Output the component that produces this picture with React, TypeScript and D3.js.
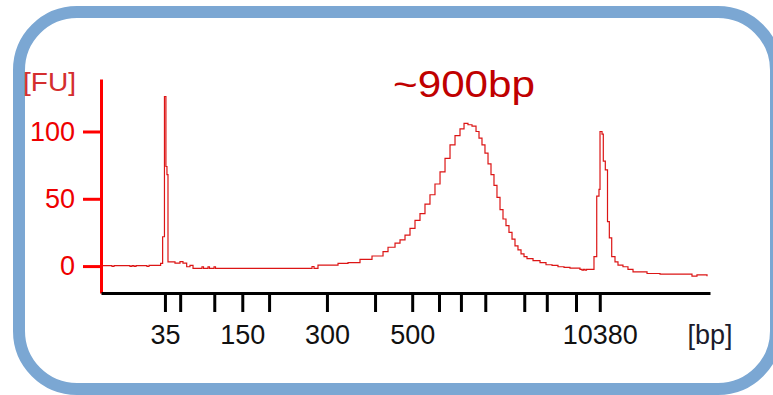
import React, { useEffect, useRef } from "react";
import * as d3 from "d3";

// ladder peaks: fragment size and migration time (s)
const ladderSizes = [35, 50, 100, 150, 200, 300, 400, 500, 600, 700, 1000, 2000, 3000, 7000, 10380];
const ladderTimes = [30.5, 33.0, 38.6, 43.2, 47.6, 57.1, 65.0, 71.1, 75.5, 79.1, 83.1, 89.5, 93.2, 98.0, 101.9];
const labeledSizes = [35, 150, 300, 500, 10380];

const yTicks = [0, 50, 100];

// electropherogram trace, migration time (s) and fluorescence (FU)
const traceTime = [
  20.0, 21.81, 22.13, 24.76, 25.09, 25.42, 25.75, 27.55, 27.88, 29.79,
  30.12, 30.42, 30.66, 30.83, 31.0, 32.15, 32.97, 33.46, 34.07, 34.61,
  35.11, 36.58, 36.83, 37.57, 37.81, 38.56, 38.8, 54.65, 54.98, 55.63,
  58.92, 60.56, 62.53, 64.5, 66.31, 67.13, 68.28, 69.1, 69.92, 70.74,
  71.56, 72.38, 73.2, 74.02, 74.84, 75.67, 76.49, 77.31, 78.13, 78.95,
  79.61, 80.26, 80.92, 81.58, 82.07, 82.56, 83.05, 83.55, 84.04, 84.53,
  85.02, 85.52, 86.01, 86.5, 86.99, 87.49, 87.98, 88.47, 88.97, 89.46,
  89.95, 90.94, 92.09, 93.07, 94.06, 95.04, 96.03, 97.01, 98.65, 98.98,
  99.23, 99.47, 99.72, 100.95, 101.4, 101.77, 101.94, 102.27, 102.48, 102.81,
  103.17, 103.47, 103.86, 104.4, 104.89, 105.71, 106.53, 107.36, 109.66, 111.79,
  116.71, 117.04, 117.86, 119.51,
];
const traceFU = [
  0.3, -0.3, 0.3, -0.2, 0.3, -0.2, 0.3, -0.3, 0.5, 2,
  21.8, 126, 74, 68, 3.2, 2.2, 3.3, 2.2, -0.5, 0.5,
  -1.7, -0.5, -1.7, -0.5, -1.7, -0.5, -1.7, -0.3, -1.7, 0.7,
  2, 2.5, 5, 7.5, 10.7, 14, 17, 19.4, 23, 28,
  34, 39, 46, 53, 61, 70, 80, 90, 97, 102,
  106, 105, 104, 100, 95, 90, 84, 76, 68, 60,
  51, 42, 35, 30, 25, 20, 15, 12, 9, 7,
  5.5, 4, 2.5, 1, 0.5, -0.5, -1, -1.5, -2.5, -3,
  -2.5, -3, -2.5, 7, 52, 57, 100, 98, 78, 71.5,
  33, 21, 7, 3.2, 0.7, -0.5, -2.5, -4.3, -5.5, -6,
  -6, -7.5, -6.5, -7.5,
];

const peakLabel = "~900bp";
const peakTime = 79.61;

export default function App() {
  const svgRef = useRef<SVGSVGElement>(null);

  useEffect(() => {
    const width = 773;
    const height = 395;
    const svg = d3.select(svgRef.current);
    svg.selectAll("*").remove();

    const x = d3.scaleLinear().domain([20, 120]).range([101, 710]);
    const y = d3.scaleLinear().domain([-20, 139]).range([293, 79]);
    const font = "'Liberation Sans', Arial, sans-serif";

    // rounded frame
    svg
      .append("rect")
      .attr("x", 19)
      .attr("y", 12)
      .attr("width", 757)
      .attr("height", 377)
      .attr("rx", 58)
      .attr("fill", "none")
      .attr("stroke", "#7ba7d3")
      .attr("stroke-width", 12);

    // trace
    const line = d3
      .line<number>()
      .x((d, i) => x(traceTime[i]))
      .y((d) => y(d))
      .curve(d3.curveStepAfter);

    svg
      .append("path")
      .datum(traceFU)
      .attr("d", line)
      .attr("fill", "none")
      .attr("stroke", "#dc1515")
      .attr("stroke-width", 1.2);

    // y axis
    svg
      .append("g")
      .attr("transform", `translate(${x(20)},0)`)
      .call(d3.axisLeft(y).tickValues(yTicks).tickSize(18).tickSizeOuter(0).tickPadding(8))
      .call((g) => {
        g.select(".domain").attr("stroke", "#ff0000").attr("stroke-width", 3);
        g.selectAll(".tick line").attr("stroke", "#ff0000").attr("stroke-width", 3);
        g.selectAll(".tick text")
          .attr("fill", "#ee0000")
          .attr("font-size", 27)
          .attr("font-family", font);
      });

    // x axis
    svg
      .append("g")
      .attr("transform", `translate(0,${y(-20)})`)
      .call(
        d3
          .axisBottom(x)
          .tickValues(ladderTimes)
          .tickSize(19)
          .tickSizeOuter(0)
          .tickPadding(13)
          .tickFormat((d, i) => (labeledSizes.includes(ladderSizes[i]) ? String(ladderSizes[i]) : ""))
      )
      .call((g) => {
        g.select(".domain").attr("stroke", "#000").attr("stroke-width", 3);
        g.selectAll(".tick line").attr("stroke", "#000").attr("stroke-width", 3);
        g.selectAll(".tick text")
          .attr("fill", "#111")
          .attr("font-size", 27)
          .attr("font-family", font);
      });

    // unit labels
    svg
      .append("text")
      .attr("x", 23)
      .attr("y", 91)
      .attr("textLength", 53)
      .attr("lengthAdjust", "spacingAndGlyphs")
      .attr("fill", "#d42e2e")
      .attr("font-size", 26)
      .attr("font-family", font)
      .text("[FU]");

    svg
      .append("text")
      .attr("x", 710)
      .attr("y", 344)
      .attr("text-anchor", "middle")
      .attr("fill", "#1b1b2b")
      .attr("font-size", 27)
      .attr("font-family", font)
      .text("[bp]");

    // peak annotation
    svg
      .append("text")
      .attr("x", x(peakTime) - 71)
      .attr("y", 97)
      .attr("textLength", 142)
      .attr("lengthAdjust", "spacingAndGlyphs")
      .attr("fill", "#c00000")
      .attr("font-size", 36)
      .attr("font-family", font)
      .text(peakLabel);

    svg.attr("width", width).attr("height", height);
  }, []);

  return (
    <svg
      ref={svgRef}
      width={773}
      height={395}
      style={{ position: "absolute", left: 0, top: 0, background: "#fff" }}
    ></svg>
  );
}
